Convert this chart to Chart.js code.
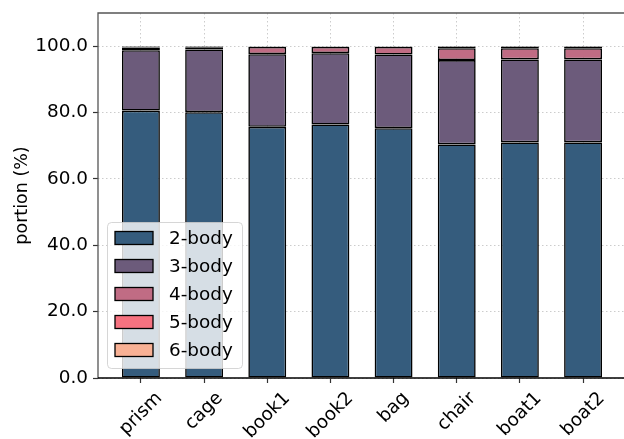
<!DOCTYPE html>
<html>
<head>
<meta charset="utf-8">
<script src="https://cdn.jsdelivr.net/npm/chart.js@4/dist/chart.umd.min.js"></script>
<style>
  html, body { margin: 0; padding: 0; background: #fff; }
  #clip { width: 624px; height: 439px; overflow: hidden; }
  #wrap { width: 626px; height: 439px; position: relative; }
</style>
</head>
<body>
<div id="clip"><div id="wrap"><canvas id="chart"></canvas></div></div>
<script>
const categories = ["prism", "cage", "book1", "book2", "bag", "chair", "boat1", "boat2"];
const seriesNames = ["2-body", "3-body", "4-body", "5-body", "6-body"];
const body2 = [80.6, 80.1, 75.7, 76.4, 75.3, 70.4, 71.0, 71.0];
const body3 = [18.2, 18.9, 21.9, 21.5, 22.2, 25.4, 25.0, 25.0];
const body4 = [0.8, 0.7, 2.2, 1.9, 2.3, 3.6, 3.4, 3.4];
const body5 = [0.2, 0.2, 0.1, 0.1, 0.1, 0.4, 0.4, 0.4];
const body6 = [0.2, 0.1, 0.1, 0.1, 0.1, 0.2, 0.2, 0.2];
const yTicks = [0, 20, 40, 60, 80, 100];
const colors = ["#355C7D", "#6C5B7B", "#C06C84", "#F67280", "#F8B195"];

const FONT = "'DejaVu Sans', sans-serif";
const series = [body2, body3, body4, body5, body6];

const datasets = series.map((vals, s) => ({
  label: seriesNames[s],
  data: vals.map((v, i) => ({ x: i, y: v })),
  backgroundColor: colors[s],
  borderColor: "#000",
  borderWidth: 1.6,
  borderSkipped: false,
  barPercentage: 0.6,
  categoryPercentage: 1.0,
}));

// spines, rotated x labels and legend box drawn the matplotlib way
const extras = {
  id: "extras",
  beforeDatasetsDraw(chart) {
    const { ctx, chartArea: a } = chart;
    ctx.save();
    ctx.strokeStyle = "#555";
    ctx.lineWidth = 1.3;
    ctx.beginPath();
    ctx.moveTo(a.left, a.bottom);
    ctx.lineTo(a.left, a.top);
    ctx.lineTo(a.right, a.top);
    ctx.stroke();
    ctx.restore();
  },
  afterDatasetsDraw(chart) {
    const { ctx, chartArea: a } = chart;
    const xs = chart.scales.x;
    ctx.save();
    // bottom spine
    ctx.strokeStyle = "#000";
    ctx.lineWidth = 1.3;
    ctx.beginPath();
    ctx.moveTo(a.left, a.bottom);
    ctx.lineTo(a.right, a.bottom);
    ctx.stroke();

    // x tick labels, rotated 45, centred under the tick
    const fs = 18.4;
    ctx.font = fs + "px " + FONT;
    ctx.fillStyle = "#000";
    ctx.textAlign = "center";
    ctx.textBaseline = "middle";
    categories.forEach((c, i) => {
      const w = ctx.measureText(c).width;
      const h = fs * 1.15;
      const bh = (w + h) * Math.SQRT1_2;
      const px = xs.getPixelForValue(i);
      const py = a.bottom + 10 + bh / 2;
      ctx.save();
      ctx.translate(px, py);
      ctx.rotate(-Math.PI / 4);
      ctx.fillText(c, 0, 0);
      ctx.restore();
    });

    // legend
    const lx = 107.5, ly = 222.5, lw = 135, lh = 146, r = 4;
    ctx.beginPath();
    ctx.moveTo(lx + r, ly);
    ctx.arcTo(lx + lw, ly, lx + lw, ly + lh, r);
    ctx.arcTo(lx + lw, ly + lh, lx, ly + lh, r);
    ctx.arcTo(lx, ly + lh, lx, ly, r);
    ctx.arcTo(lx, ly, lx + lw, ly, r);
    ctx.closePath();
    ctx.fillStyle = "rgba(255,255,255,0.8)";
    ctx.fill();
    ctx.strokeStyle = "rgba(204,204,204,0.8)";
    ctx.lineWidth = 1;
    ctx.stroke();

    ctx.textAlign = "left";
    chart.data.datasets.forEach((ds, i) => {
      const cy = 238 + i * 28;
      ctx.fillStyle = ds.backgroundColor;
      ctx.fillRect(115, cy - 6.5, 38, 13);
      ctx.strokeStyle = "#000";
      ctx.lineWidth = 1.3;
      ctx.strokeRect(115, cy - 6.5, 38, 13);
      ctx.fillStyle = "#000";
      ctx.fillText(ds.label, 169, cy + 1);
    });
    ctx.restore();
  },
};

new Chart(document.getElementById("chart").getContext("2d"), {
  type: "bar",
  data: { datasets },
  options: {
    responsive: true,
    maintainAspectRatio: false,
    animation: false,
    layout: { padding: { top: 13, right: 0, left: 0, bottom: 0 } },
    plugins: { legend: { display: false }, tooltip: { enabled: false } },
    scales: {
      x: {
        type: "linear",
        stacked: true,
        offset: false,
        min: -0.68,
        max: 7.68,
        afterBuildTicks: (scale) => {
          scale.ticks = categories.map((c, i) => ({ value: i }));
        },
        afterFit: (scale) => {
          scale.height = 61;
          scale.paddingLeft = 0;
          scale.paddingRight = 0;
        },
        ticks: { display: false, autoSkip: false },
        grid: {
          offset: false,
          color: "#cccccc",
          lineWidth: 1,
          drawTicks: true,
          tickLength: 5,
          tickColor: "#333",
          tickWidth: 1.2,
        },
        border: { display: false, dash: [1.5, 2.5] },
      },
      y: {
        stacked: true,
        min: 0,
        max: 110,
        afterBuildTicks: (scale) => {
          scale.ticks = yTicks.map((v) => ({ value: v }));
        },
        afterFit: (scale) => {
          scale.width = 98;
          scale.paddingTop = 0;
          scale.paddingBottom = 0;
        },
        ticks: {
          font: { family: FONT, size: 18.4 },
          color: "#000",
          padding: 5,
          callback: (v) => Number(v).toFixed(1),
        },
        grid: {
          color: "#cccccc",
          lineWidth: 1,
          drawTicks: true,
          tickLength: 5,
          tickColor: "#333",
          tickWidth: 1.2,
        },
        border: { display: false, dash: [1.5, 2.5] },
        title: {
          display: true,
          text: "portion (%)",
          color: "#000",
          font: { family: FONT, size: 17.5 },
          padding: { top: 12, bottom: 0 },
        },
      },
    },
  },
  plugins: [extras],
});
</script>
</body>
</html>
